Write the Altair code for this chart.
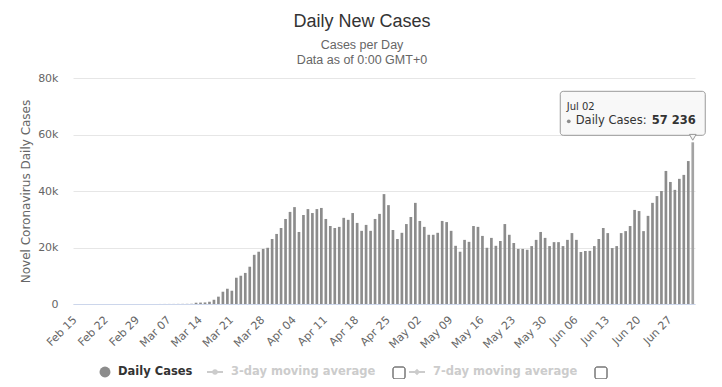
import altair as alt
import pandas as pd

# ---- data -------------------------------------------------------------
dates = [d.strftime("%b %d") for d in pd.date_range("2020-02-15", "2020-07-02", freq="D")]

feb_cases = [0, 0, 0, 0, 0, 0, 0, 0, 0, 0, 0, 0, 0, 0, 0]
mar_cases = [0, 5, 5, 10, 15, 20, 25, 30, 40, 50, 60, 80,
             450, 500, 550, 800, 1500, 2600, 4350, 5400, 4700, 9300, 10000,
             11000, 13200, 17400, 18500, 19500, 19900, 23000, 24800]
apr_cases = [26900, 30100, 32600, 34300, 25500, 31500, 33600, 32200, 33600, 34000,
             30100, 27600, 26900, 27300, 30500, 29800, 32200, 28700, 25900, 28000,
             25900, 30100, 31900, 38900, 35000, 26200, 23000, 25200, 28300, 30800]
may_cases = [35800, 29400, 27300, 24500, 24500, 25200, 29400, 29000, 25900, 20600,
             18500, 22700, 22000, 27600, 27300, 24100, 19900, 23400, 20600, 22300,
             28300, 24500, 21600, 19500, 19500, 19200, 20500, 22700, 25500, 23400,
             20500]
jun_cases = [21900, 21900, 20500, 22700, 25100, 22700, 18400, 18800, 18800, 20500,
             23000, 26900, 25100, 19800, 20500, 25100, 25800, 27600, 33300, 32900,
             25800, 31200, 35800, 38200, 40000, 47100, 43200, 40400, 44300, 45700]
jul_cases = [50600, 57236]

cases = feb_cases + mar_cases + apr_cases + may_cases + jun_cases + jul_cases
assert len(cases) == len(dates)

x_tick_labels = ["Feb 15", "Feb 22", "Feb 29", "Mar 07", "Mar 14", "Mar 21", "Mar 28",
                 "Apr 04", "Apr 11", "Apr 18", "Apr 25", "May 02", "May 09", "May 16",
                 "May 23", "May 30", "Jun 06", "Jun 13", "Jun 20", "Jun 27"]
y_ticks = [0, 20000, 40000, 60000, 80000]

hover_date = "Jul 02"

df = pd.DataFrame({"date": dates, "cases": cases})
df["hl"] = df["date"] == hover_date
tip = df[df["date"] == hover_date].copy()
tip["label"] = tip["cases"].map(lambda v: f"{v:,}".replace(",", " "))

W, H = 622, 226
AXIS_FONT = "DejaVu Sans"

x_scale = alt.Scale(domain=dates, paddingInner=0.4, paddingOuter=0.2)
y_scale = alt.Scale(domain=[0, 80000], nice=False)

x_enc = alt.X(
    "date:N",
    sort=dates,
    scale=x_scale,
    axis=alt.Axis(
        values=x_tick_labels, labelAngle=-45, labelAlign="right", labelBaseline="middle",
        labelPadding=14, ticks=False, tickSize=0, domainColor="#ccd6eb", domainWidth=1,
        labelColor="#666666", labelFontSize=11, labelFont=AXIS_FONT, title=None,
        zindex=1, labelOverlap=False, grid=False,
    ),
)
y_enc = alt.Y(
    "cases:Q",
    scale=y_scale,
    axis=alt.Axis(
        values=y_ticks,
        labelExpr="datum.value == 0 ? '0' : (datum.value / 1000) + 'k'",
        title="Novel Coronavirus Daily Cases", titleColor="#666666", titleFontSize=12,
        titleFont=AXIS_FONT, titleFontWeight="normal", titlePadding=5,
        labelColor="#666666", labelFontSize=11, labelFont=AXIS_FONT, labelPadding=15,
        ticks=False, tickSize=0, domain=False, gridColor="#e6e6e6",
    ),
)

bars = alt.Chart(df).mark_bar().encode(
    x=x_enc,
    y=y_enc,
    color=alt.when(alt.datum.hl).then(alt.value("#a3a3a3")).otherwise(alt.value("#8c8c8c")),
)

# ---- tooltip anchored at the hovered bar ---------------------------------
tip_box = alt.Chart(tip).mark_bar(
    width=145, xOffset=-60, yOffset=-51, y2Offset=-7, cornerRadius=3,
    fill="#f7f7f7", fillOpacity=0.9, stroke="#999999", strokeWidth=1,
).encode(x=x_enc, y=y_enc, y2="cases:Q")

tip_pointer = alt.Chart(tip).mark_point(
    shape="triangle-down", size=45, filled=True, fill="#f7f7f7", stroke="#999999",
    strokeWidth=1, yOffset=-5, opacity=1,
).encode(x=x_enc, y=y_enc)

tip_date = alt.Chart(tip).mark_text(
    align="left", baseline="middle", dx=-126, dy=-35, fontSize=10, font=AXIS_FONT, color="#333333",
).encode(x=x_enc, y=y_enc, text="date:N")

tip_dot = alt.Chart(tip).mark_point(
    shape="circle", size=14, filled=True, color="#8c8c8c", xOffset=-124, yOffset=-21, opacity=1,
).encode(x=x_enc, y=y_enc)

tip_name = alt.Chart(tip).mark_text(
    align="left", baseline="middle", dx=-117, dy=-21, fontSize=11.5, font=AXIS_FONT, color="#333333",
    text="Daily Cases:",
).encode(x=x_enc, y=y_enc)

tip_val = alt.Chart(tip).mark_text(
    align="right", baseline="middle", dx=3, dy=-21, fontSize=11.5, font=AXIS_FONT,
    fontWeight="bold", color="#333333",
).encode(x=x_enc, y=y_enc, text="label:N")

# ---- legend (drawn below the plot) --------------------------------------
one = pd.DataFrame({"k": [0]})
LY = 294
LFS = 11.5
legend_layers = [
    alt.Chart(one).mark_point(shape="circle", filled=True, size=120, color="#8c8c8c", opacity=1)
    .encode(x=alt.value(32), y=alt.value(LY)),
    alt.Chart(one).mark_text(text="Daily Cases", align="left", baseline="middle", fontSize=LFS,
                             fontWeight="bold", font=AXIS_FONT, color="#333333")
    .encode(x=alt.value(45), y=alt.value(LY)),
    alt.Chart(one).mark_rule(color="#cccccc", strokeWidth=2)
    .encode(x=alt.value(134), x2=alt.value(150), y=alt.value(LY)),
    alt.Chart(one).mark_point(shape="circle", filled=True, size=30, color="#cccccc", opacity=1)
    .encode(x=alt.value(142), y=alt.value(LY)),
    alt.Chart(one).mark_text(text="3-day moving average", align="left", baseline="middle", fontSize=LFS,
                             fontWeight="bold", font=AXIS_FONT, color="#cccccc")
    .encode(x=alt.value(158), y=alt.value(LY)),
    alt.Chart(one).mark_rect(cornerRadius=2, fill="white", stroke="#333333", strokeWidth=1)
    .encode(x=alt.value(320), x2=alt.value(332), y=alt.value(LY - 5), y2=alt.value(LY + 7)),
    alt.Chart(one).mark_rule(color="#cccccc", strokeWidth=2)
    .encode(x=alt.value(336), x2=alt.value(352), y=alt.value(LY)),
    alt.Chart(one).mark_point(shape="diamond", filled=True, size=40, color="#cccccc", opacity=1)
    .encode(x=alt.value(344), y=alt.value(LY)),
    alt.Chart(one).mark_text(text="7-day moving average", align="left", baseline="middle", fontSize=LFS,
                             fontWeight="bold", font=AXIS_FONT, color="#cccccc")
    .encode(x=alt.value(360), y=alt.value(LY)),
    alt.Chart(one).mark_rect(cornerRadius=2, fill="white", stroke="#333333", strokeWidth=1)
    .encode(x=alt.value(522), x2=alt.value(534), y=alt.value(LY - 5), y2=alt.value(LY + 7)),
]

chart = alt.layer(
    bars, tip_box, tip_pointer, tip_date, tip_dot, tip_name, tip_val, *legend_layers
).properties(
    width=W,
    height=H,
    autosize=alt.AutoSizeParams(type="none"),
    padding={"left": 65, "top": 70, "right": 19, "bottom": 75},
    title=alt.TitleParams(
        text="Daily New Cases",
        subtitle=["Cases per Day", "Data as of 0:00 GMT+0"],
        anchor="middle", frame="group", dx=-22, offset=6,
        font="Liberation Sans", fontSize=18, fontWeight="normal", color="#333333",
        subtitleFont="Liberation Sans", subtitleFontSize=12.5, subtitleColor="#666666",
        subtitleLineHeight=15, subtitlePadding=8,
    ),
).configure_view(stroke=None)

chart.save("out.html", embed_options={"renderer": "svg", "actions": False})
